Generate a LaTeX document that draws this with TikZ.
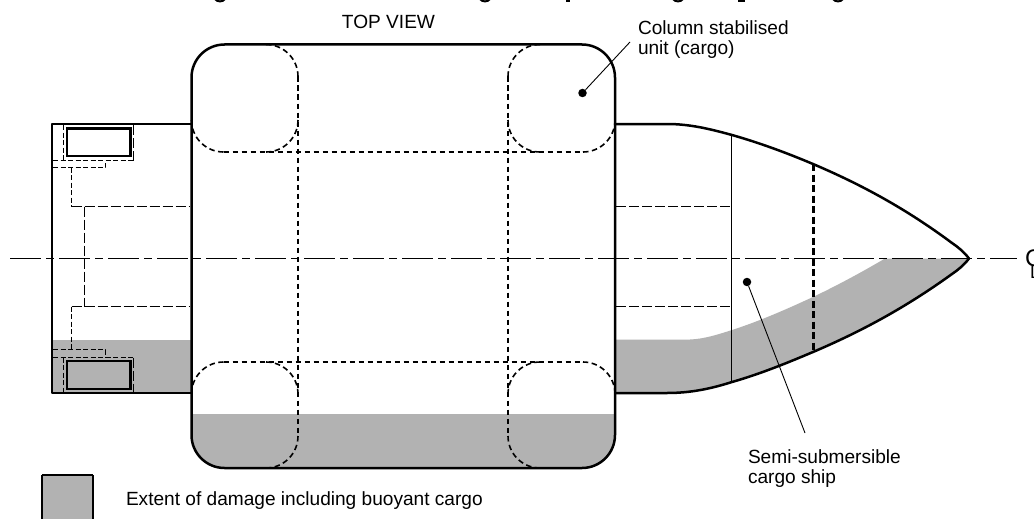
\documentclass[tikz,border=0pt]{standalone}
\usepackage{fontspec}
\setmainfont{Liberation Sans}
\definecolor{fillColor}{RGB}{178,178,178}
\tikzset{
  labelText/.style={anchor=base west,inner sep=0pt,outer sep=0pt,font=\fontsize{19.1}{22}\selectfont},
  hullLine/.style={draw=black,line width=2.5pt,line join=round},
  thinLine/.style={draw=black,line width=1pt},
  leaderLine/.style={draw=black,line width=0.9pt},
  columnDash/.style={draw=black,line width=1.6pt,dash pattern=on 5.5pt off 3.5pt},
  heavyDash/.style={draw=black,line width=2.2pt,dash pattern=on 7pt off 3.5pt},
  longDash/.style={draw=black,line width=1pt,dash pattern=on 10pt off 3pt},
  shortDash/.style={draw=black,line width=1pt,dash pattern=on 5pt off 2.5pt},
  centreDash/.style={draw=black,line width=1pt,dash pattern=on 31pt off 5pt on 8pt off 5pt},
  leaderDot/.style={circle,fill=black,inner sep=0pt,minimum size=8.5pt},
}
\begin{document}
\begin{tikzpicture}[x=1pt,y=-1pt]
\path[use as bounding box,fill=white] (0,0) rectangle (1034,519);

% damage extent
\path[fill=fillColor] (52,339.5) rectangle (191,393);
\path[fill=fillColor] (191.5,414) [rounded corners=33pt] -- (191.5,468) -- (615,468) [sharp corners] -- (615,414) -- cycle;
\path[fill=fillColor] (615,339.5) -- (690,339.5)
	.. controls (704,339) and (718,334.5) .. (732,330)
	.. controls (760,321) and (787,309) .. (813,297)
	.. controls (840,284) and (862,272) .. (885,258.5)
	-- (969,258.5)
	.. controls (964,265) and (958,270) .. (952,274)
	.. controls (905,308) and (860,332) .. (813,352)
	.. controls (785,364) and (760,374) .. (732,382)
	.. controls (710,389) and (690,393) .. (667,393)
	-- (615,393) -- cycle;
\path[fill=fillColor] (42,475) rectangle (93,525);

% column corners inside the unit
\foreach \ax/\ay/\bx/\by/\cx/\cy in {
  266/44.5/298/44.5/298/76.5, 298/120/298/152/266/152, 223.5/152/191.5/152/191.5/120,
  540/44.5/508/44.5/508/76.5, 508/120/508/152/540/152, 583/152/615/152/615/120,
  191.5/394/191.5/362/223.5/362, 266/362/298/362/298/394, 298/436/298/468/266/468,
  615/394/615/362/583/362, 540/362/508/362/508/394, 508/436/508/468/540/468}
  \path[columnDash,rounded corners=32pt] (\ax,\ay) -- (\bx,\by) -- (\cx,\cy);
\path[columnDash] (298,76.5) -- (298,436);
\path[columnDash] (508,76.5) -- (508,436);
\path[columnDash] (223.5,152) -- (583,152);
\path[columnDash] (223.5,362) -- (583,362);

% compartments in the ship
\path[shortDash] (63.5,125) -- (63.5,160.5);
\path[longDash] (133.5,125) -- (133.5,160.5);
\path[shortDash] (53,160.5) -- (133.5,160.5);
\path[shortDash] (53,167.5) -- (105.5,167.5) -- (105.5,160.5);
\path[shortDash] (71.5,167.5) -- (71.5,206.5);
\path[longDash] (71.5,206.5) -- (190,206.5);
\path[longDash] (84.5,206.5) -- (84.5,306.5);
\path[longDash] (71.5,306.5) -- (190,306.5);
\path[shortDash] (71.5,306.5) -- (71.5,349.5);
\path[shortDash] (53,349.5) -- (105.5,349.5) -- (105.5,357.5);
\path[shortDash] (53,357.5) -- (133.5,357.5);
\path[shortDash] (63.5,357.5) -- (63.5,392);
\path[longDash] (133.5,357.5) -- (133.5,392);
\path[longDash] (616,206.5) -- (731.5,206.5);
\path[longDash] (616,306.5) -- (731.5,306.5);
\path[thinLine] (731.5,135) -- (731.5,382);
\path[heavyDash] (813.5,164) -- (813.5,352);

% pods
\path[draw=black,line width=2.6pt] (67,128.5) rectangle (130.5,156);
\path[draw=black,line width=2.6pt] (67,361) rectangle (130.5,389);

% centre line
\path[centreDash] (10,258.5) -- (1017,258.5);

% hull
\path[hullLine] (191.5,124) -- (52,124) -- (52,393) -- (191.5,393);
\path[hullLine] (615,124) -- (667,124)
	.. controls (690,124) and (710,129) .. (732,135)
	.. controls (760,143) and (787,153) .. (813,164)
	.. controls (860,184) and (905,208) .. (952,243)
	.. controls (958,247) and (964,252) .. (969,258.5)
	.. controls (964,265) and (958,270) .. (952,274)
	.. controls (905,308) and (860,332) .. (813,352)
	.. controls (787,363) and (760,374) .. (732,382)
	.. controls (710,389) and (690,393) .. (667,393)
	-- (615,393);
\path[hullLine,rounded corners=33pt] (191.5,44.5) rectangle (615,468);
\path[draw=black,line width=1.8pt] (42,475) -- (93,475);
\path[draw=black,line width=1.8pt] (42,475) -- (42,525);
\path[draw=black,line width=1.8pt] (93,475) -- (93,525);

% bottoms of the cropped heading
\foreach \xpos in {220,485,678,838}
  \path[draw=black,line width=2pt] (\xpos-5,-1) .. controls (\xpos-3,2.2) and (\xpos+3,2.2) .. (\xpos+5,-1);
\path[fill=black] (566,0) rectangle (570,2.5);
\path[draw=black,line width=2pt] (738,1.5) -- (745,1.5);

% labels
\node[labelText,anchor=base] (topview) at (388.5,28.5) {TOP VIEW};
\node[labelText] (unitone) at (638,35) {Column stabilised};
\node[labelText] (unittwo) at (638,54.5) {unit (cargo)};
\node[labelText] (shipone) at (748,463) {Semi-submersible};
\node[labelText] (shiptwo) at (748,483) {cargo ship};
\node[labelText] (legend) at (126,505.5) {Extent of damage including buoyant cargo};
\node[labelText,font=\fontsize{24}{28}\selectfont] (centre) at (1025,266) {C};
\node[labelText,font=\fontsize{18}{22}\selectfont] (line) at (1030,278) {L};

% leaders
\node[leaderDot] (unitdot) at (582.5,93) {};
\node[leaderDot] (shipdot) at (747,282) {};
\coordinate (unitend) at (630,42);
\coordinate (shipend) at (805,433);
\path[leaderLine] (unitdot) -- (unitend);
\path[leaderLine] (shipdot) -- (shipend);
\end{tikzpicture}
\end{document}
